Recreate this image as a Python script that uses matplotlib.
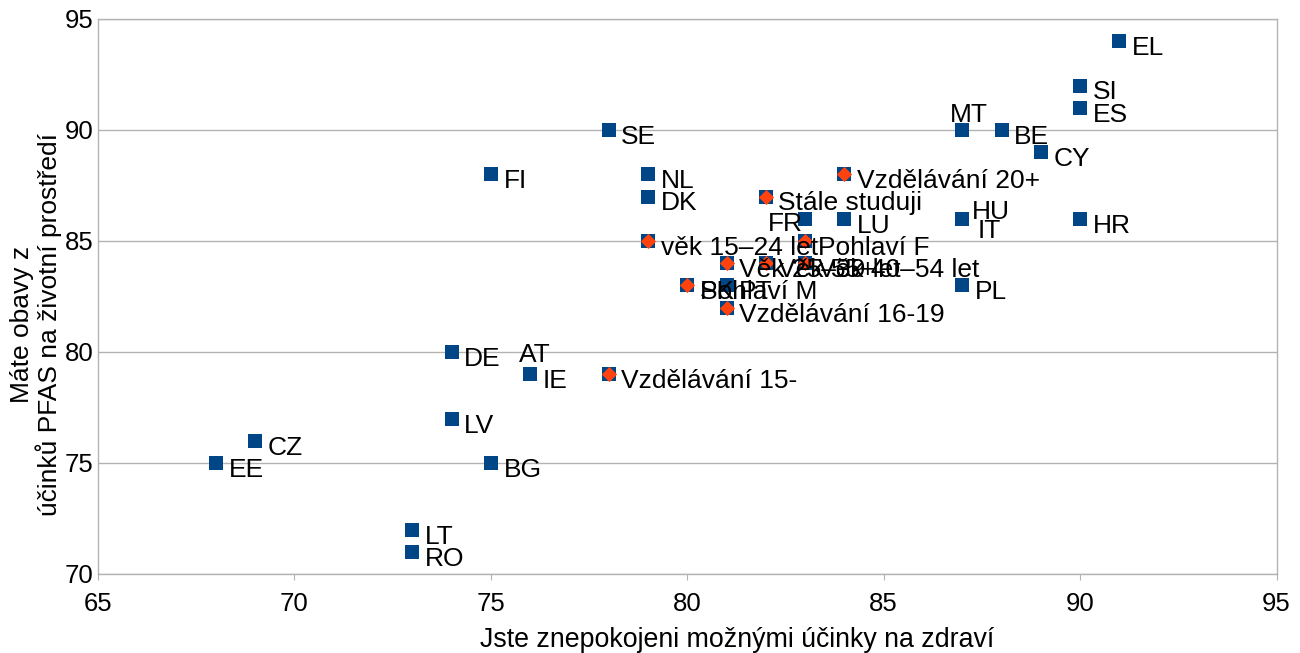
import matplotlib
matplotlib.use("Agg")
import matplotlib.pyplot as plt

plt.rcParams["font.family"] = ["Liberation Sans", "DejaVu Sans"]

# Country results (share concerned, %)
countries = ["EL", "SI", "ES", "MT", "BE", "CY", "SE", "FI", "NL", "DK",
             "FR", "LU", "HU", "IT", "HR", "PL", "SK", "PT", "EU27",
             "DE", "AT", "IE", "LV", "CZ", "EE", "BG", "LT", "RO"]
country_health = [91, 90, 90, 87, 88, 89, 78, 75, 79, 79,
                  83, 84, 87, 87, 90, 87, 80, 81, 81,
                  74, 76, 76, 74, 69, 68, 75, 73, 73]
country_env = [94, 92, 91, 90, 90, 89, 90, 88, 88, 87,
               86, 86, 86, 86, 86, 83, 83, 83, 84,
               80, 79, 79, 77, 76, 75, 75, 72, 71]

# Socio-demographic groups (EU level)
groups = ["Vzdělávání 20+", "Stále studuji", "věk 15–24 let", "Pohlaví F",
          "Věk 25–39 let", "Věk 55+", "Věk 40–54 let", "Pohlaví M",
          "Vzdělávání 16-19", "Vzdělávání 15-"]
group_health = [84, 82, 79, 83, 81, 82, 83, 80, 81, 78]
group_env = [88, 87, 85, 85, 84, 84, 84, 83, 82, 79]

BLUE = "#004586"
ORANGE = "#ff420e"
GRID = "#b3b3b3"
FS = 19

# label offsets in points (dx, dy, ha, va); default is right of the marker
DEFAULT_POS = (9, -5, "left", "center")
LABEL_POS = {
    "MT": (5, 2, "center", "bottom"),
    "AT": (3, 5, "center", "bottom"),
    "FR": (-2, -4, "right", "center"),
    "HU": (7, 5, "left", "center"),
    "IT": (11, -9, "left", "center"),
}

fig = plt.figure(figsize=(13, 6.53), dpi=100)
ax = fig.add_axes([0.0754, 0.1210, 0.9066, 0.8500])

ax.scatter(country_health, country_env, marker="s", s=100, c=BLUE,
           linewidths=0, zorder=3)
ax.scatter(group_health, group_env, marker="s", s=100, c=BLUE,
           linewidths=0, zorder=3)
ax.scatter(group_health, group_env, marker="D", s=60, c=ORANGE,
           linewidths=0, zorder=4)

for name, x, y in list(zip(countries, country_health, country_env)) + \
        list(zip(groups, group_health, group_env)):
    if name == "EU27":
        continue
    dx, dy, ha, va = LABEL_POS.get(name, DEFAULT_POS)
    ax.annotate(name, (x, y), xytext=(dx, dy), textcoords="offset points",
                ha=ha, va=va, fontsize=FS, color="black", zorder=5)

ax.set_xlim(65, 95)
ax.set_ylim(70, 95)
ax.set_xticks(range(65, 96, 5))
ax.set_yticks(range(70, 96, 5))
ax.tick_params(axis="x", labelsize=18.5, length=4, color=GRID,
               direction="out", pad=9)
ax.tick_params(axis="y", labelsize=18.5, length=0, pad=3)
ax.grid(axis="y", color=GRID, linewidth=1)
ax.set_axisbelow(True)
for spine in ax.spines.values():
    spine.set_edgecolor(GRID)
    spine.set_linewidth(1)

# axis titles sit where the spreadsheet export put them
fig.text(737 / 1300, 1 - 640 / 653,
         "Jste znepokojeni možnými účinky na zdraví",
         fontsize=19.3, ha="center", va="center")
fig.text(36 / 1300, 1 - 324 / 653,
         "Máte obavy z\núčinků PFAS na životní prostředí",
         fontsize=19, rotation=90, ha="center", va="center",
         multialignment="center", linespacing=1.05)

fig.savefig("out.png", dpi=100)
